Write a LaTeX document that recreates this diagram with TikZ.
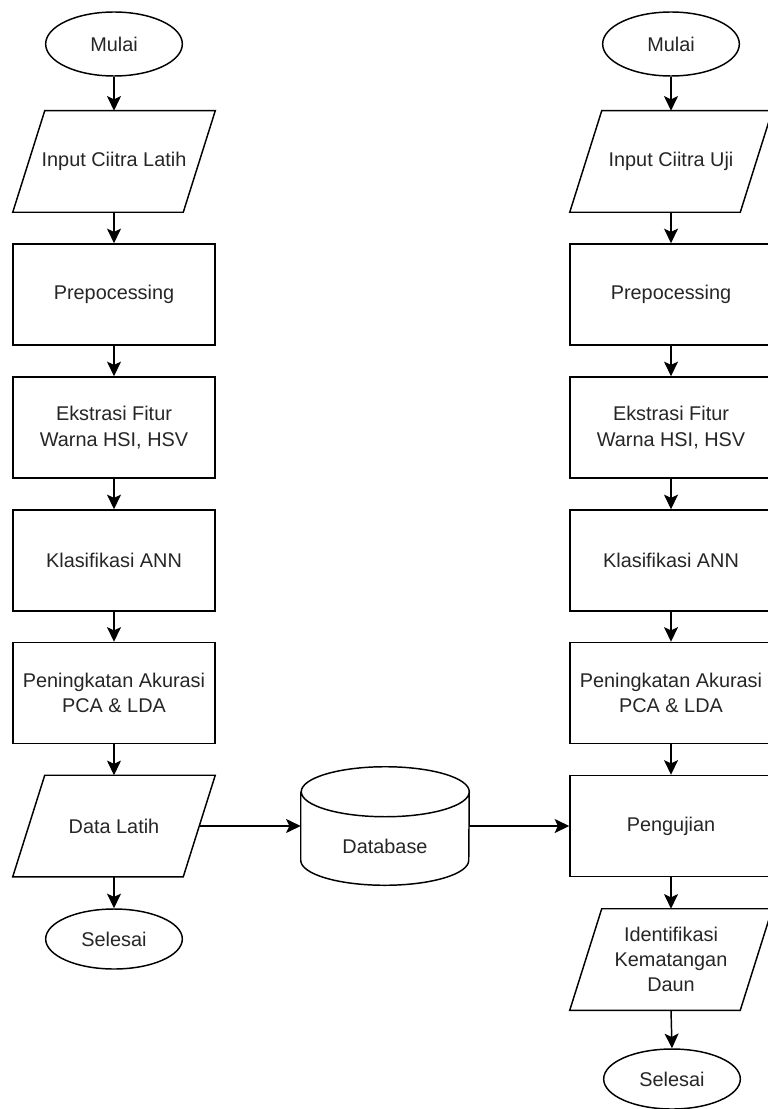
\documentclass[tikz,border=0pt]{standalone}
\usepackage{fontspec}
\setmainfont{Liberation Sans}
\usetikzlibrary{shapes.geometric,arrows.meta}
\newcommand\drawpara[1]{\draw[base] ([xshift=24pt]#1.north west) -- (#1.north east) -- ([xshift=-24pt]#1.south east) -- (#1.south west) -- cycle;}
\begin{document}
\begin{tikzpicture}[x=0.75pt,y=0.75pt,
  every node/.style={font=\fontsize{14.9}{19}\selectfont, align=center, inner sep=0pt, text=black!85},
  base/.style={draw, line width=1.1pt},
  proc/.style={base, rectangle, minimum width=151.5pt, minimum height=75.75pt},
  io/.style={rectangle, minimum width=151.5pt, minimum height=75.75pt},
  term/.style={base, ellipse, minimum width=102.5pt},
  flow/.style={line width=1.1pt, -{Stealth[length=11pt,width=10.5pt,inset=2.5pt]}}
]
\useasboundingbox[fill=white] (0,0) rectangle (767,-1109);

% left column
\node[term, minimum height=48pt] (lm) at (114,-44) {Mulai};
\node[io] (li) at (114,-161.5) {Input Ciitra Latih};
\node[proc] (lp) at (114,-294.5) {Prepocessing};
\node[proc] (le) at (114,-427.5) {Ekstrasi Fitur\\Warna HSI, HSV};
\node[proc] (lk) at (114,-560.5) {Klasifikasi ANN};
\node[proc] (la) at (114,-693) {Peningkatan Akurasi\\PCA \& LDA};
\node[io] (ld) at (114,-826) {Data Latih};
\node[term, minimum height=45pt] (ls) at (114,-939) {Selesai};

% right column
\node[term, minimum height=48pt] (rm) at (671,-44) {Mulai};
\node[io] (ri) at (671,-161.5) {Input Ciitra Uji};
\node[proc] (rp) at (671,-294.5) {Prepocessing};
\node[proc] (re) at (671,-427.5) {Ekstrasi Fitur\\Warna HSI, HSV};
\node[proc] (rk) at (671,-560.5) {Klasifikasi ANN};
\node[proc] (ra) at (671,-693) {Peningkatan Akurasi\\PCA \& LDA};
\node[proc] (rj) at (671,-826) {Pengujian};
\node[io] (rd) at (671,-959.5) {Identifikasi\\Kematangan\\Daun};
\node[term, minimum height=45pt] (rs) at (672,-1079) {Selesai};

% parallelogram outlines
\drawpara{li}
\drawpara{ld}
\drawpara{ri}
\drawpara{rd}
\coordinate (ldE) at ([xshift=-12.2pt]ld.east);

% database cylinder
\node[minimum width=126pt, minimum height=88.5pt] (db) at (385,-826) {};
\draw[base] ([yshift=-18.75pt]db.north west) -- ([yshift=18.75pt]db.south west)
  arc[start angle=180,end angle=360,x radius=63pt,y radius=18.75pt]
  -- ([yshift=-18.75pt]db.north east)
  arc[start angle=0,end angle=180,x radius=63pt,y radius=18.75pt]
  arc[start angle=180,end angle=360,x radius=63pt,y radius=18.75pt];
\node (dbl) at (385,-846) {Database};

% connectors
\draw[flow] (lm) -- (li);
\draw[flow] (li) -- (lp);
\draw[flow] (lp) -- (le);
\draw[flow] (le) -- (lk);
\draw[flow] (lk) -- (la);
\draw[flow] (la) -- (ld);
\draw[flow] (ld) -- (ls);

\draw[flow] (rm) -- (ri);
\draw[flow] (ri) -- (rp);
\draw[flow] (rp) -- (re);
\draw[flow] (re) -- (rk);
\draw[flow] (rk) -- (ra);
\draw[flow] (ra) -- (rj);
\draw[flow] (rj) -- (rd);
\draw[flow] (rd.south) -- (rs.north);

\draw[flow] (ldE) -- (db.west);
\draw[flow] (db) -- (rj);
\end{tikzpicture}
\end{document}
